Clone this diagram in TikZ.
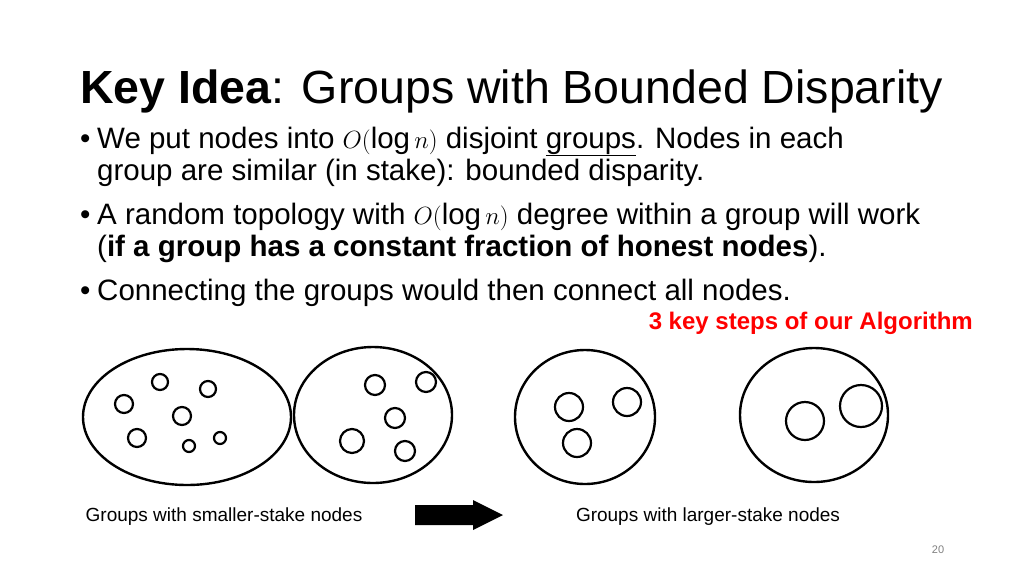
\documentclass[tikz,border=0pt]{standalone}
\usepackage{fontspec}
\setmainfont{Liberation Sans}
\begin{document}
\begin{tikzpicture}[x=1pt,y=-1pt,
  txt/.style={anchor=base west,inner sep=0pt,font=\fontsize{29.5}{34}\selectfont},
  grp/.style={draw,line width=2.4pt},
  nd/.style={draw,line width=2.2pt}]
\useasboundingbox (0,0) rectangle (1024,576);
\node[txt,font=\fontsize{46.5}{52}\selectfont] (title) at (80,103) {\textbf{Key Idea}: Groups with Bounded Disparity};
\node[txt] (b1) at (80,148) {•};
\node[txt] (l1) at (97,148) {We put nodes into $O(\log n)$ disjoint \underline{groups}. Nodes in each};
\node[txt] (l2) at (97,180) {group are similar (in stake): bounded disparity.};
\node[txt] (b2) at (80,224) {•};
\node[txt] (l3) at (97,224) {A random topology with $O(\log n)$ degree within a group will work};
\node[txt] (l4) at (97,256) {(\textbf{if a group has a constant fraction of honest nodes}).};
\node[txt] (b3) at (80,300) {•};
\node[txt] (l5) at (97,300) {Connecting the groups would then connect all nodes.};
\node[anchor=base east,inner sep=0pt,text=red,font=\bfseries\fontsize{24}{28}\selectfont] (steps) at (973,329) {3 key steps of our Algorithm};
\draw[grp] (187,417) ellipse[x radius=104,y radius=68];
\draw[grp] (373,415) ellipse[x radius=79,y radius=68];
\draw[grp] (585,417) ellipse[x radius=70,y radius=67];
\draw[grp] (814,415) ellipse[x radius=74,y radius=67];
\foreach \x/\y/\r in {160/382/8,208/389/8,124/404/9,182/416/9,137/438/9,189/446/6,220/438/6,
  375/385/10,426/382/10,395/418/10,352/441/12,405/451/10,
  569/407/14,627/402/14,577/443/14,805/421/19,861/406/21}
  \draw[nd] (\x,\y) circle[radius=\r];
\node[inner sep=0pt,font=\fontsize{19}{22}\selectfont] (sm) at (224,517) {Groups with smaller-stake nodes};
\node[inner sep=0pt,font=\fontsize{19}{22}\selectfont] (lg) at (708,517) {Groups with larger-stake nodes};
\fill (415,505) -- (473,505) -- (473,500) -- (503,515) -- (473,530) -- (473,525) -- (415,525) -- cycle;
\node[inner sep=0pt,text=gray,font=\fontsize{11}{13}\selectfont] (pg) at (938,550) {20};
\end{tikzpicture}
\end{document}
